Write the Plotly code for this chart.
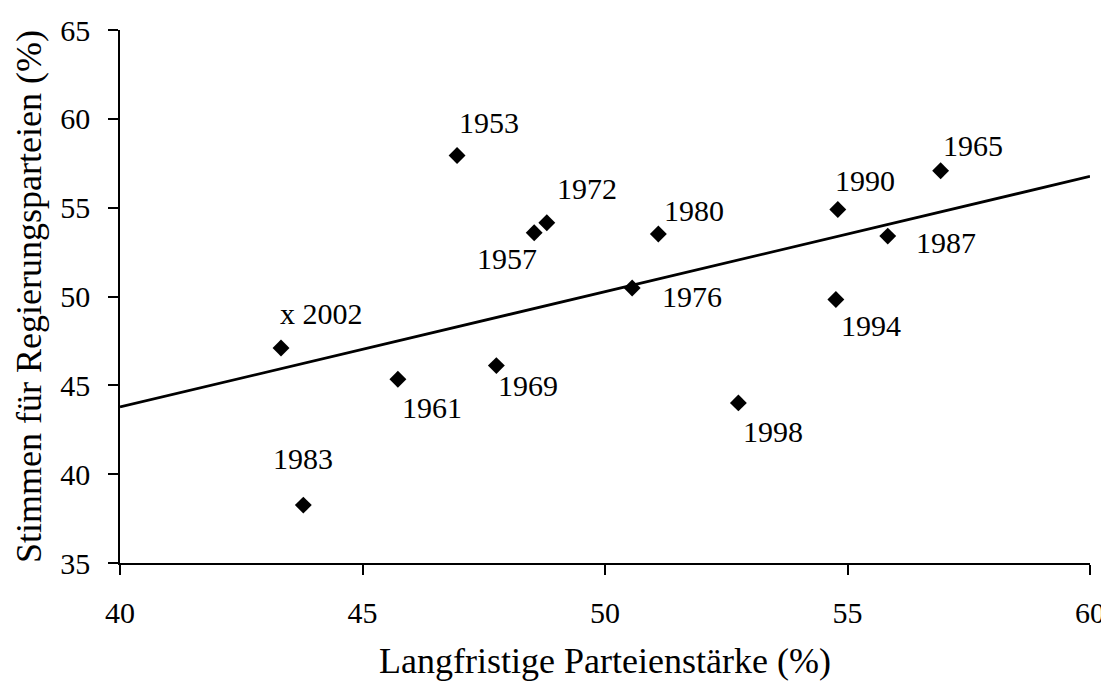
import plotly.graph_objects as go

years = ["1953", "1957", "1961", "1965", "1969", "1972", "1976", "1980",
         "1983", "1987", "1990", "1994", "1998", "2002"]
staerke = [46.95, 48.54, 45.73, 56.92, 47.76, 48.80, 50.56, 51.10,
           43.78, 55.83, 54.80, 54.76, 52.75, 43.32]
stimmen = [57.94, 53.59, 45.34, 57.08, 46.11, 54.15, 50.48, 53.52,
           38.26, 53.40, 54.90, 49.83, 44.01, 47.10]
label_texts = ["1953", "1957", "1961", "1965", "1969", "1972", "1976", "1980",
               "1983", "1987", "1990", "1994", "1998", "x 2002"]
trend_x = [40, 60]
trend_y = [43.78, 56.76]
x_ticks = [40, 45, 50, 55, 60]
y_ticks = [35, 40, 45, 50, 55, 60, 65]

# label placement (xanchor, xshift px, yshift px)
label_pos = {
    "1953": ("left", 0, 33), "1957": ("right", 5, -26), "1961": ("left", 2, -28),
    "1965": ("left", 0, 25), "1969": ("left", 0, -20), "1972": ("left", 8, 34),
    "1976": ("left", 28, -9), "1980": ("left", 4, 23), "1983": ("center", 0, 47),
    "1987": ("left", 26, -6), "1990": ("left", -5, 29), "1994": ("left", 3, -26),
    "1998": ("left", 3, -29), "2002": ("left", -3, 35),
}

FONT = "Liberation Serif, Times New Roman, serif"
LBL = 30
TITLE = 36

fig = go.Figure()
fig.add_trace(go.Scatter(x=trend_x, y=trend_y, mode="lines",
                         line=dict(color="black", width=2.8), hoverinfo="skip"))
fig.add_trace(go.Scatter(x=staerke, y=stimmen, mode="markers", text=years,
                         marker=dict(symbol="diamond", size=13, color="black")))

anns = []
for yr, xv, yv, t in zip(years, staerke, stimmen, label_texts):
    xa, xs, ys = label_pos[yr]
    anns.append(dict(x=xv, y=yv, xref="x", yref="y", text=t, showarrow=False,
                     xanchor=xa, yanchor="middle", xshift=xs, yshift=ys,
                     font=dict(family=FONT, size=LBL, color="black")))

# page body has an 8px margin, so the figure is sized to fit the 1109x689 window
fig.update_layout(
    width=1101, height=673,
    margin=dict(l=112, r=19, t=22, b=118, autoexpand=False),
    paper_bgcolor="white", plot_bgcolor="white",
    showlegend=False,
    annotations=anns,
    font=dict(family=FONT, size=LBL, color="black"),
    xaxis=dict(range=[40, 60], tickvals=x_ticks, showgrid=False, zeroline=False,
               showline=True, linecolor="black", linewidth=1.5,
               ticks="outside", ticklen=10, tickwidth=1.5, tickcolor="black",
               ticklabelstandoff=12, ticklabeloverflow="allow",
               tickfont=dict(family=FONT, size=LBL),
               title=dict(text="Langfristige Parteienstärke (%)",
                          font=dict(family=FONT, size=TITLE), standoff=22)),
    yaxis=dict(range=[35, 65], tickvals=y_ticks, showgrid=False, zeroline=False,
               showline=True, linecolor="black", linewidth=1.5,
               ticks="outside", ticklen=10, tickwidth=1.5, tickcolor="black",
               ticklabelstandoff=12,
               tickfont=dict(family=FONT, size=LBL),
               title=dict(text="Stimmen für Regierungsparteien (%)",
                          font=dict(family=FONT, size=TITLE), standoff=8)),
)

fig.write_html("out.html")
